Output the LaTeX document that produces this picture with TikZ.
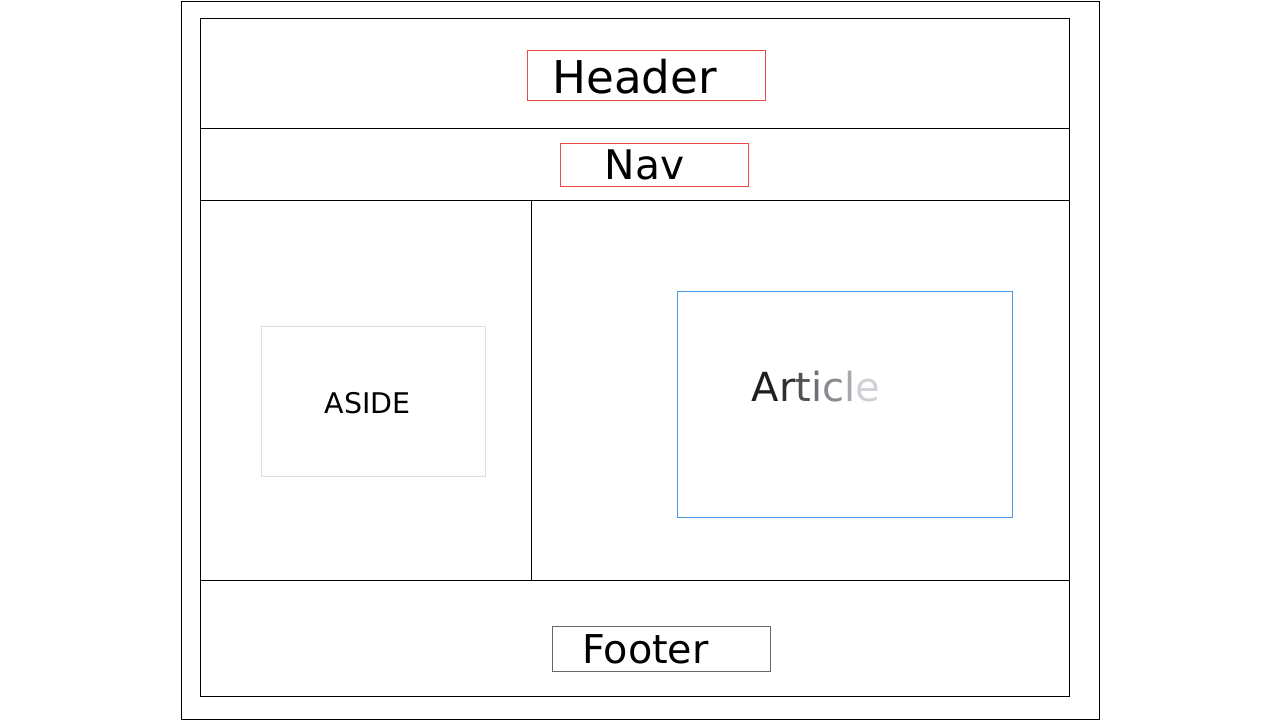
\documentclass[tikz,border=0pt]{standalone}
\usepackage{fontspec}
\setmainfont{DejaVu Sans}
\usetikzlibrary{positioning}

\definecolor{boxred}{HTML}{F04848}
\definecolor{boxblue}{HTML}{4A96E0}
\definecolor{boxgray}{HTML}{DDDDDD}
\definecolor{footgray}{HTML}{666666}

\tikzset{
    frame/.style={draw=black, line width=0.5pt},
    label box/.style={line width=0.5pt},
}

\begin{document}
\begin{tikzpicture}[x=0.02cm, y=-0.02cm]

    \useasboundingbox (0,0) rectangle (1280,720);

    % outer page and inner layout
    \draw[frame] (181,1) rectangle (1099,719);
    \draw[frame] (200,18) rectangle (1069,696);
    \draw[frame] (200,128) -- (1069,128);
    \draw[frame] (200,200) -- (1069,200);
    \draw[frame] (200,580) -- (1069,580);
    \draw[frame] (531,200) -- (531,580);

    % header
    \draw[label box, draw=boxred] (527,50) rectangle (765,100);
    \node (header) at (634.5,77) {\fontsize{25.7}{30}\selectfont Header};

    % nav
    \draw[label box, draw=boxred] (560,143) rectangle (748,186);
    \node (nav) at (644.5,164.5) {\fontsize{23.2}{28}\selectfont Nav};

    % aside
    \draw[label box, draw=boxgray] (261,326) rectangle (485,476);
    \node (aside) at (367.5,403.5) {\fontsize{16.2}{19}\selectfont ASIDE};

    % article
    \draw[label box, draw=boxblue] (677,291) rectangle (1012,517);
    \node (article) at (816,386.5) {\fontsize{22.8}{28}\selectfont
        \textcolor[HTML]{1E1E22}{A}\textcolor[HTML]{2E2E32}{r}\textcolor[HTML]{505055}{t}\textcolor[HTML]{707075}{i}\textcolor[HTML]{8A8A90}{c}\textcolor[HTML]{A8A8AE}{l}\textcolor[HTML]{D0D0D6}{e}};

    % footer
    \draw[label box, draw=footgray] (552,626) rectangle (770,671);
    \node (footer) at (645.5,649) {\fontsize{22.6}{27}\selectfont Footer};

\end{tikzpicture}
\end{document}
